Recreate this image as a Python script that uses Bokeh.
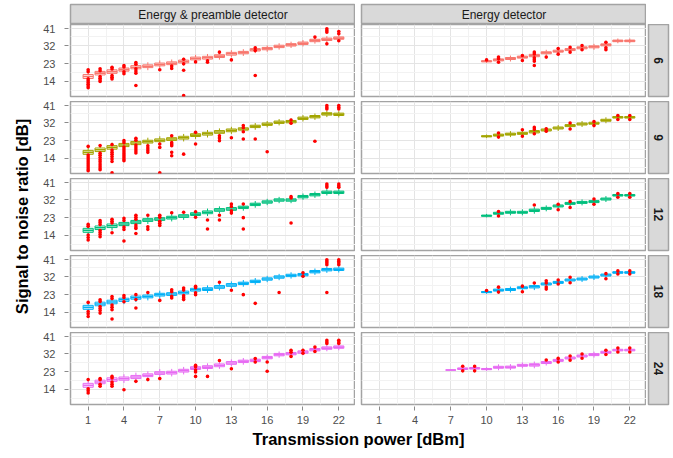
import math
from bokeh.plotting import figure
from bokeh.models import Range1d, FixedTicker, Spacer
from bokeh.layouts import row, column
from bokeh.embed import file_html
from bokeh.resources import INLINE
from bokeh.core.properties import value

# ---------------- data ----------------
snr_rows = ["6", "9", "12", "18", "24"]
row_colors = ["#F8766D", "#A3A500", "#00BF7D", "#00B0F6", "#E76BF3"]
detectors = ["Energy & preamble detector", "Energy detector"]
x_ticks = [1, 4, 7, 10, 13, 16, 19, 22]
x_minor = [2.5, 5.5, 8.5, 11.5, 14.5, 17.5, 20.5]
y_ticks = [14, 23, 32, 41]
y_minor = [9.5, 18.5, 27.5, 36.5]

power_ep = list(range(1, 23))
power_e = list(range(10, 23))
power_e_24 = list(range(7, 23))

med_ep_6 = [16.5, 18.2, 19.0, 20.0, 21.2, 21.7, 22.6, 23.2, 24.1, 25.6, 26.0, 26.8, 28.0, 28.6, 30.0, 30.6, 31.7, 32.5, 33.3, 34.7, 35.3, 35.9]
med_ep_9 = [17.1, 18.4, 19.6, 20.8, 21.8, 22.5, 23.2, 23.8, 24.5, 25.8, 26.5, 27.4, 28.2, 28.9, 30.2, 31.3, 32.3, 32.6, 34.3, 35.1, 36.5, 36.3]
med_ep_12 = [16.6, 17.9, 18.9, 19.8, 20.8, 21.8, 22.3, 23.0, 23.8, 24.8, 25.7, 26.9, 27.4, 28.2, 29.7, 30.9, 31.9, 31.9, 33.6, 34.6, 35.8, 35.8]
med_ep_18 = [16.6, 18.3, 19.3, 20.4, 21.5, 22.1, 23.0, 23.3, 24.1, 25.5, 25.8, 26.9, 27.9, 28.7, 29.7, 30.9, 31.9, 32.7, 33.1, 34.6, 35.6, 35.8]
med_ep_24 = [16.1, 17.8, 19.0, 19.5, 20.3, 21.2, 22.3, 22.5, 23.5, 24.8, 25.3, 26.2, 27.4, 28.2, 28.7, 30.1, 31.6, 32.1, 32.9, 34.1, 34.9, 35.4]

med_e_6 = [24.2, 24.9, 25.6, 26.3, 27.1, 28.5, 29.3, 30.1, 31.0, 31.5, 32.5, 34.5, 34.5]
med_e_9 = [25.2, 25.8, 26.3, 26.7, 27.5, 28.4, 29.4, 30.6, 31.4, 31.8, 33.3, 34.8, 34.8]
med_e_12 = [24.0, 25.2, 25.7, 25.7, 26.7, 27.7, 28.9, 30.2, 30.7, 31.1, 32.4, 34.3, 34.3]
med_e_18 = [24.3, 25.3, 25.6, 26.5, 27.0, 28.4, 29.2, 30.4, 30.9, 31.9, 32.9, 34.2, 34.2]
med_e_24 = [23.8, 24.5, 24.7, 24.3, 25.2, 25.3, 26.2, 26.4, 27.6, 28.7, 29.9, 30.9, 31.6, 32.8, 33.9, 33.9]

# half box height (IQR/2) and whisker reach beyond the box, by power
box_ep = [1.0, 0.9, 0.9, 0.8, 0.8, 0.7, 0.7, 0.7, 0.7, 0.7, 0.7, 0.7, 0.7, 0.6, 0.6, 0.6, 0.6, 0.6, 0.6, 0.6, 0.6, 0.6]
whisk_ep = [1.8, 1.6, 1.5, 1.4, 1.4, 1.3, 1.3, 1.2, 1.2, 1.2, 1.2, 1.1, 1.1, 1.1, 1.1, 1.0, 1.0, 1.0, 1.0, 1.0, 1.0, 1.0]
box_e = [0.0, 0.4, 0.4, 0.3, 0.5, 0.5, 0.5, 0.6, 0.5, 0.5, 0.5, 0.5, 0.5, 0.5, 0.4, 0.4]   # powers 7..22
whisk_e = [0.0, 0.8, 0.8, 0.6, 1.0, 1.0, 1.0, 1.1, 1.0, 1.0, 1.0, 1.0, 1.0, 1.0, 0.8, 0.8]

# outliers: (power, [SNR values])
out_ep_6 = [(1, [19.9, 18.9, 15.3, 14.4, 13.5, 12.6, 11.7, 10.8]), (2, [20.4, 19.4, 16.5, 15.6, 14.8, 14.0]),
            (3, [21.2, 20.3, 17.0, 16.1, 15.3]), (4, [22.1, 21.3, 18.9, 17.9]), (5, [23.6, 22.7, 20.4, 19.3, 18.2, 12.0]),
            (7, [19.9]), (8, [21.8, 20.6]), (9, [25.2, 22.9, 19.7, 6.9]), (10, [23.9]), (11, [24.5, 23.7]),
            (12, [28.8]), (13, [24.9]), (15, [31.0, 29.6, 17.0]), (20, [36.4]), (21, [40.6, 39.7, 38.9, 33.0]),
            (22, [39.2, 38.1, 34.6])]
out_ep_9 = [(1, [20.1, 15.7, 14.7, 13.7, 12.7, 11.7, 10.7, 9.7, 8.7, 7.8]), (2, [20.5, 16.7, 15.6, 14.5, 13.4, 12.3, 11.2, 10.2, 9.2, 8.3]),
            (3, [21.0, 18.3, 17.2, 16.1, 15.0, 13.8, 12.5, 6.8]), (4, [23.0, 22.0, 19.8, 18.8, 17.8, 16.8, 15.8, 14.8, 13.8, 12.9]),
            (5, [24.2, 23.2, 20.8, 19.8, 18.8, 17.8, 16.8]), (6, [20.4, 19.3, 18.2, 17.1]), (7, [21.3, 19.6, 6.8]),
            (8, [25.5, 22.0, 21.2, 20.4, 17.1, 15.4]), (9, [16.2]), (10, [27.2, 21.3]), (12, [25.5, 24.3, 23.0]),
            (13, [24.5]), (14, [30.6, 29.5, 27.5, 23.8]), (15, [23.8]), (16, [17.4]), (18, [33.4, 31.8]), (20, [22.7]),
            (21, [40.7, 39.8, 39.0]), (22, [40.7, 39.8, 39.0])]
out_ep_12 = [(1, [19.6, 18.6, 14.2, 13.0, 11.7]), (2, [21.5, 20.5, 19.5, 16.5, 15.5, 14.5, 13.4]), (3, [22.2, 21.2, 20.3, 15.4]),
             (4, [22.7, 21.6, 18.2, 17.0, 11.2]), (5, [24.2, 23.2, 22.2, 19.3, 18.3, 17.5, 15.0]), (6, [24.2, 18.4, 17.1]),
             (7, [24.2, 23.2, 21.2, 20.2, 19.1]), (8, [25.5]), (9, [25.7]), (10, [26.0, 23.2]), (11, [21.8, 17.3]),
             (12, [24.2, 21.8]), (13, [29.9, 28.6, 26.5, 25.3]), (14, [29.9, 23.0, 17.3]), (18, [33.6, 32.9, 20.3]),
             (21, [40.0, 39.1, 38.3]), (22, [40.0, 39.1, 38.3])]
out_ep_18 = [(1, [19.1, 14.5, 13.3, 12.0]), (2, [20.4, 19.5, 17.0, 16.0, 15.0, 13.7]), (3, [22.1, 21.0, 17.8, 16.6, 15.4, 10.7]),
             (4, [22.6, 21.6, 19.4]), (5, [23.0, 20.5, 16.3]), (6, [24.1]), (7, [20.1]), (8, [25.5, 24.5, 22.2, 21.3]),
             (9, [26.3, 25.3, 22.5, 21.5, 20.5]), (10, [27.2, 26.5, 24.0, 23.0]), (12, [29.3]), (13, [25.2]), (14, [23.0]),
             (15, [18.6]), (17, [24.1]), (19, [34.0, 32.3]), (21, [40.6, 39.8, 39.0, 38.1, 24.1]), (22, [40.6, 39.8, 39.0, 38.1])]
out_ep_24 = [(1, [19.0, 14.4, 13.3, 12.2]), (2, [19.5, 18.9, 16.6, 15.6]), (3, [20.6, 19.8, 17.8, 16.7, 15.6]), (4, [13.9]),
             (5, [18.1]), (6, [19.0]), (7, [19.5]), (10, [26.2, 25.5, 23.8, 22.8, 20.6]), (11, [20.6]), (12, [28.6]),
             (13, [24.5]), (15, [29.6, 27.9]), (16, [27.9, 23.2]), (18, [33.8, 32.8, 30.7]), (19, [33.8, 32.3]),
             (20, [35.4, 33.2]), (21, [38.8, 38.0, 37.2]), (22, [38.8, 38.0, 37.2])]

out_e_6 = [(10, [24.9]), (11, [26.3, 25.5, 23.7]), (13, [27.1, 24.6]), (14, [28.8, 27.9, 26.0, 25.1, 24.2, 22.1]), (15, [26.3]),
           (16, [30.6, 27.8]), (17, [31.3, 28.8]), (18, [32.2, 30.0]), (20, [33.8, 31.0, 30.0])]
out_e_9 = [(11, [26.9, 24.8]), (13, [28.5, 25.2]), (14, [29.7, 28.7, 26.5]), (15, [29.0, 27.8]), (17, [31.9, 28.9]),
           (19, [32.6, 30.6]), (21, [35.7, 33.7]), (22, [35.7, 33.7])]
out_e_12 = [(11, [26.1, 23.8]), (14, [29.4]), (16, [29.8, 27.0]), (17, [31.1, 28.1]), (19, [32.4, 29.8]),
            (21, [35.2, 33.3]), (22, [35.2, 33.3])]
out_e_18 = [(10, [25.1]), (11, [26.8, 24.3]), (13, [27.3, 24.5]), (14, [28.9]), (15, [30.0, 28.9, 26.9, 25.8]),
            (16, [30.4, 28.4]), (17, [31.8, 29.0]), (20, [33.6, 31.0]), (21, [35.0, 33.4]), (22, [35.0, 33.4])]
out_e_24 = [(8, [25.7, 23.4]), (9, [25.7, 23.4]), (15, [28.9]), (16, [29.7, 27.9]), (17, [30.9, 28.8]),
            (18, [31.9, 29.8]), (20, [33.8, 31.7]), (21, [34.9, 32.9]), (22, [34.9, 32.9])]

panels_ep = [(power_ep, med_ep_6, out_ep_6), (power_ep, med_ep_9, out_ep_9), (power_ep, med_ep_12, out_ep_12),
             (power_ep, med_ep_18, out_ep_18), (power_ep, med_ep_24, out_ep_24)]
panels_e = [(power_e, med_e_6, out_e_6), (power_e, med_e_9, out_e_9), (power_e, med_e_12, out_e_12),
            (power_e, med_e_18, out_e_18), (power_e_24, med_e_24, out_e_24)]

# ---------------- style ----------------
FONT = "Liberation Sans"
X_RANGE = (-0.48, 23.4)
Y_RANGE = (6.42, 42.77)
BORDER = "#a3a3a3"
STRIP_FILL = "#d9d9d9"
BOX_W = 0.85


def base_fig(width, height, left, right, top, bottom, xr, yr):
    p = figure(width=width, height=height, x_range=Range1d(*xr), y_range=Range1d(*yr),
               min_border_left=left, min_border_right=right, min_border_top=top, min_border_bottom=bottom,
               x_axis_location=None, y_axis_location=None, toolbar_location=None,
               output_backend="svg", sizing_mode="fixed")
    p.border_fill_color = "white"
    p.background_fill_color = "white"
    p.outline_line_color = None
    p.grid.visible = False
    return p


def style_axis(ax):
    ax.axis_line_color = None
    ax.major_tick_line_color = "#8a8a8a"
    ax.major_tick_in = -2
    ax.major_tick_out = 6
    ax.minor_tick_line_color = None
    ax.major_label_text_font = FONT
    ax.major_label_text_font_size = "11px"
    ax.major_label_text_color = "#4d4d4d"


def panel(width, height, left, right, bottom, with_y, with_x, color, powers, med, outs, box, whisk, box_off):
    p = figure(width=width, height=height, x_range=Range1d(*X_RANGE), y_range=Range1d(*Y_RANGE),
               min_border_left=left, min_border_right=right, min_border_top=0, min_border_bottom=bottom,
               x_axis_location="below" if with_x else None, y_axis_location="left" if with_y else None,
               toolbar_location=None, output_backend="svg", sizing_mode="fixed")
    p.border_fill_color = "white"
    p.background_fill_color = "white"
    p.outline_line_color = BORDER
    p.outline_line_width = 1.5
    p.xgrid.ticker = FixedTicker(ticks=x_ticks, minor_ticks=x_minor)
    p.ygrid.ticker = FixedTicker(ticks=y_ticks, minor_ticks=y_minor)
    p.grid.grid_line_color = "#e4e4e4"
    p.grid.grid_line_width = 1
    p.grid.minor_grid_line_color = "#f2f2f2"
    p.grid.minor_grid_line_width = 1
    if with_y:
        p.yaxis.ticker = FixedTicker(ticks=y_ticks)
        style_axis(p.yaxis[0])
        p.yaxis.major_label_standoff = 9
    if with_x:
        p.xaxis.ticker = FixedTicker(ticks=x_ticks)
        style_axis(p.xaxis[0])
        p.xaxis.major_label_standoff = 5

    hb = [box[x - box_off] for x in powers]
    wk = [whisk[x - box_off] for x in powers]
    q1 = [m - h for m, h in zip(med, hb)]
    q3 = [m + h for m, h in zip(med, hb)]
    wlo = [a - w for a, w in zip(q1, wk)]
    whi = [b + w for b, w in zip(q3, wk)]
    p.segment(x0=powers, y0=q3, x1=powers, y1=whi, line_color=color, line_width=1)
    p.segment(x0=powers, y0=q1, x1=powers, y1=wlo, line_color=color, line_width=1)
    p.vbar(x=powers, width=BOX_W, bottom=q1, top=q3, fill_color="white", fill_alpha=0.6,
           line_color=color, line_width=1)
    p.segment(x0=[x - BOX_W / 2 for x in powers], y0=med, x1=[x + BOX_W / 2 for x in powers], y1=med,
              line_color=color, line_width=1.6)
    ox = [x for x, ys in outs for _ in ys]
    oy = [y for _, ys in outs for y in ys]
    p.scatter(x=ox, y=oy, marker="circle", size=3.6, fill_color="#ff0000", line_color=None)
    return p


def top_strip(width, left, text):
    p = base_fig(width, 24, left, 0, 4, 0, (0, 1), (0, 1))
    p.background_fill_color = STRIP_FILL
    p.outline_line_color = BORDER
    p.outline_line_width = 1.5
    p.text(x=[0.5], y=[0.5], text=[text], text_align="center", text_baseline="middle",
           text_font=value(FONT), text_font_size="12px", text_color="#1a1a1a")
    return p


def side_strip(height, bottom, text):
    p = base_fig(27, height, 2, 5, 0, bottom, (0, 1), (0, 1))
    p.background_fill_color = STRIP_FILL
    p.outline_line_color = BORDER
    p.outline_line_width = 1.5
    p.text(x=[0.5], y=[0.5], text=[text], angle=-math.pi / 2, text_align="center", text_baseline="middle",
           text_font=value(FONT), text_font_size="12px", text_font_style="bold", text_color="#1a1a1a")
    return p


# y title column
ylab = base_fig(38, 458, 0, 0, 0, 0, (0, 38), (0, 458))
ylab.text(x=[21], y=[458 - 216], text=["Signal to noise ratio [dB]"], angle=math.pi / 2,
          text_align="center", text_baseline="middle", text_font=value(FONT),
          text_font_size="16.5px", text_font_style="bold", text_color="black")

rows_layout = [row(top_strip(317, 32, detectors[0]), top_strip(291, 6, detectors[1]), Spacer(width=27, height=24))]
for i, lab in enumerate(snr_rows):
    last = i == len(snr_rows) - 1
    h = 97 if last else 77
    b = 25 if last else 5
    pw, md, ou = panels_ep[i]
    left_p = panel(317, h, 32, 0, b, True, last, row_colors[i], pw, md, ou, box_ep, whisk_ep, 1)
    pw, md, ou = panels_e[i]
    right_p = panel(291, h, 6, 0, b, False, last, row_colors[i], pw, md, ou, box_e, whisk_e, 7)
    rows_layout.append(row(left_p, right_p, side_strip(h, b, lab)))

xtitle = base_fig(635, 29, 0, 0, 0, 0, (38, 673), (0, 29))
xtitle.text(x=[358], y=[28.5], text=["Transmission power [dBm]"], text_align="center", text_baseline="top",
            text_font=value(FONT), text_font_size="16.5px", text_font_style="bold", text_color="black")
rows_layout.append(xtitle)

layout = row(ylab, column(*rows_layout))

open("out.html", "w").write(file_html(layout, INLINE))
